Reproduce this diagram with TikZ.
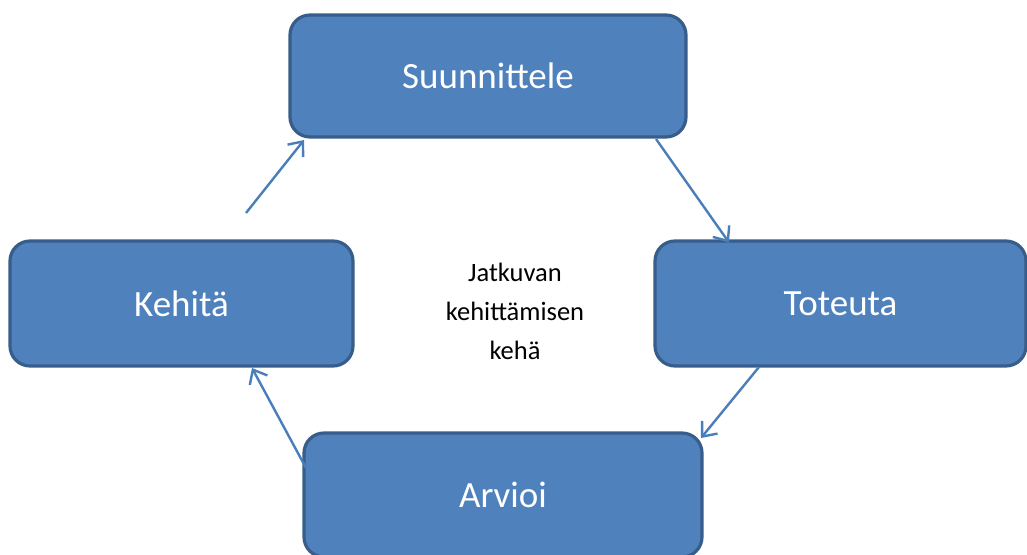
\documentclass[tikz,border=0pt]{standalone}
\usepackage{fontspec}
\setmainfont{Carlito}
\usetikzlibrary{arrows.meta,calc}
\definecolor{boxfill}{HTML}{4F81BD}
\definecolor{boxline}{HTML}{385D8A}
\definecolor{arrowcol}{HTML}{4A7EBB}
\tikzset{
  stage/.style={rectangle, rounded corners=20pt, fill=boxfill, draw=boxline,
    line width=3.2pt, outer sep=0pt, text=white,
    font=\fontsize{37}{44}\selectfont},
  flow/.style={draw=arrowcol, line width=2.4pt,
    -{Straight Barb[length=12pt,width=20pt,line width=2.4pt]}}
}
\begin{document}
\begin{tikzpicture}[x=1pt,y=1pt]
  \useasboundingbox (0,0) rectangle (1027,554);
  \begin{scope}
    \clip (0,0) rectangle (1027,554);
    % the four stages of the cycle
    \node[stage, minimum width=396pt, minimum height=122pt] (S) at (488,478) {Suunnittele};
    \node[stage, minimum width=343pt, minimum height=125pt] (K) at (181.5,250.5) {Kehitä};
    \node[stage, minimum width=371pt, minimum height=125pt] (T) at (840.5,250.5) {Toteuta};
    \node[stage, minimum width=398pt, minimum height=124pt] (A) at (503,59) {Arvioi};
  \end{scope}
  % title in the middle
  \node[align=center, font=\fontsize{26.5}{39}\selectfont] (C) at (515,243)
    {Jatkuvan\\kehittämisen\\kehä};
  % connectors between the stages
  \coordinate (k1) at ($(K.north)+(64.5,28)$);
  \coordinate (s1) at ($(S.south west)+(14,-3)$);
  \coordinate (s2) at ($(S.south east)+(-30,-2)$);
  \coordinate (t1) at ($(T.north west)+(74,-1.5)$);
  \coordinate (t2) at ($(T.south west)+(104,-1)$);
  \coordinate (a1) at ($(A.north east)+(-1,-5)$);
  \coordinate (a2) at ($(A.north west)+(2,-35)$);
  \coordinate (k2) at ($(K.south)+(70.5,-2)$);
  \draw[flow] (k1) -- (s1);
  \draw[flow] (s2) -- (t1);
  \draw[flow] (t2) -- (a1);
  \draw[flow] (a2) -- (k2);
\end{tikzpicture}
\end{document}
